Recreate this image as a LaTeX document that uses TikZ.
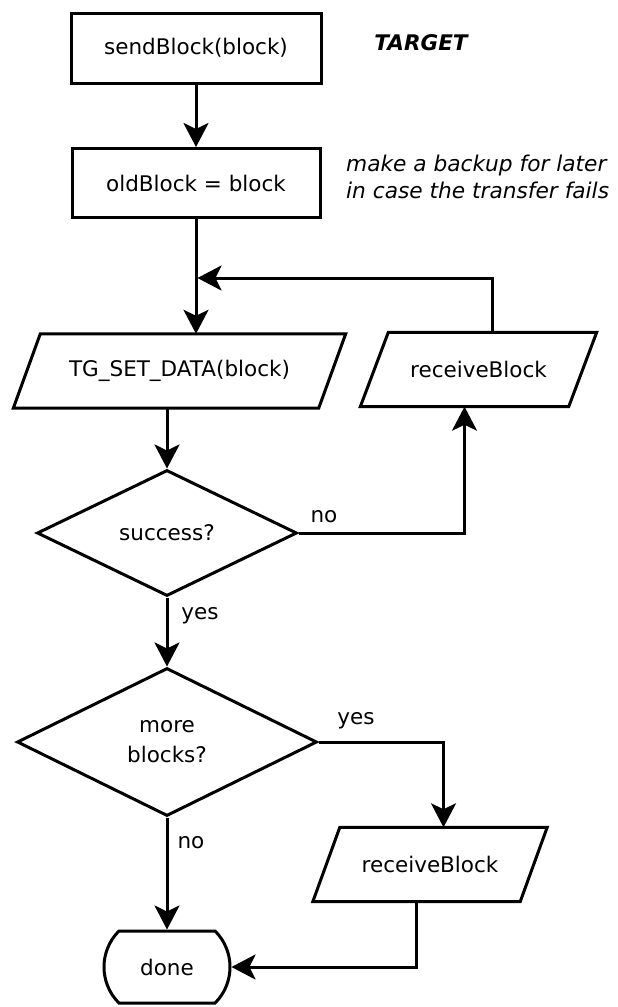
\documentclass[tikz,border=0pt]{standalone}
\usepackage{fontspec}
\setmainfont{DejaVu Sans}
\usetikzlibrary{shapes.geometric,shapes.misc,arrows.meta}
\newcommand\paraoutline[2]{%
  \draw[outline] ([xshift=#2]#1.north west) -- ([xshift=#2]#1.north east)
    -- ([xshift=-#2]#1.south east) -- ([xshift=-#2]#1.south west) -- cycle;}
\begin{document}
\begin{tikzpicture}[x=1pt,y=-1pt,
  every node/.style={font=\fontsize{21.5}{26}\selectfont},
  outline/.style={line width=3pt, line join=miter},
  base/.style={draw, line width=3pt, inner sep=0pt, align=center},
  procbox/.style={base, rectangle, minimum width=250pt, minimum height=70pt},
  iobody/.style={rectangle, inner sep=0pt, align=center, minimum height=74pt},
  decision/.style={base, diamond},
  term/.style={base, rounded rectangle, rounded rectangle arc length=90,
    minimum width=126pt, minimum height=72pt},
  conn/.style={line width=3pt, -{Stealth[length=24pt,width=25pt,inset=6pt]}},
  lbl/.style={inner sep=0pt}
]
\useasboundingbox (0,0) rectangle (618,1007);

\node[procbox] (sb) at (196,48) {sendBlock(block)};
\node[lbl, font=\fontsize{21.5}{24}\selectfont\bfseries\itshape] (tgt) at (421,43) {TARGET};
\node[procbox, minimum width=248pt, minimum height=69pt] (ob) at (196,183) {oldBlock = block};
\node[lbl, anchor=west, align=left, font=\fontsize{21.7}{27}\selectfont\itshape] (cmt) at (346,177)
  {make a backup for later\\in case the transfer fails};

\node[iobody, minimum width=305pt] (tg) at (179.5,371) {TG\_SET\_DATA(block)};
\paraoutline{tg}{13.5pt}
\node[iobody, minimum width=208pt] (rb1) at (478.5,369.5) {receiveBlock};
\paraoutline{rb1}{14pt}

\node[decision, minimum width=260pt, minimum height=126pt] (succ) at (167,533) {success?};
\node[decision, minimum width=300pt, minimum height=148pt, font=\fontsize{21.5}{30}\selectfont] (more) at (167,742) {more\\blocks?};

\node[iobody, minimum width=207pt] (rb2) at (430,864.5) {receiveBlock};
\paraoutline{rb2}{13.5pt}
\node[term] (done) at (167,967) {done};

\coordinate (j) at (197.5,278);

\node[lbl] (lno1) at (324,517) {no};
\node[lbl] (lyes1) at (200,616) {yes};
\node[lbl] (lyes2) at (356,721) {yes};
\node[lbl] (lno2) at (191,843) {no};

\draw[conn] (sb.south) -- (ob.north);
\draw[conn] (ob.south) -- (ob.south |- tg.north);
\draw[conn] ([xshift=14pt]rb1.north) |- (j);
\draw[conn] (succ.north |- tg.south) -- (succ.north);
\draw[conn] (succ.east) -| ([xshift=-14pt]rb1.south);
\draw[conn] (succ.south) -- (more.north);
\draw[conn] (more.east) -| ([xshift=13.5pt]rb2.north);
\draw[conn] (more.south) -- (done.north);
\draw[conn] ([xshift=-13.5pt]rb2.south) |- (done.east);
\end{tikzpicture}
\end{document}
